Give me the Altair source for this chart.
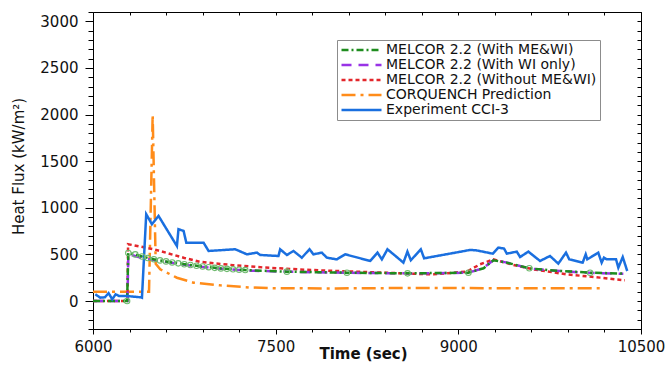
import altair as alt
import pandas as pd

# ---------------- data ----------------
names = [
    "MELCOR 2.2 (With ME&WI)",
    "MELCOR 2.2 (With WI only)",
    "MELCOR 2.2 (Without ME&WI)",
    "CORQUENCH Prediction",
    "Experiment CCI-3",
]

time_green = [6000, 6280, 6290, 6347, 6402, 6450, 6500, 6550, 6600, 6650, 6700, 6750,
              6800, 6850, 6900, 6950, 7000, 7050, 7100, 7150, 7200, 7250, 7592, 8085,
              8583, 9083, 9207, 9288, 9398, 9583, 9750, 10082, 10355]
flux_green = [0, 0, 515, 500, 478, 462, 448, 436, 425, 414, 404, 395,
              386, 378, 370, 363, 356, 350, 345, 340, 336, 332, 315, 304,
              297, 304, 351, 437, 412, 351, 330, 304, 294]
marker_green = [False, True, True, True, True, True, True, True, True, True, True, True,
                True, True, True, True, True, True, True, True, True, True, True, True,
                True, True, False, False, False, True, False, True, False]

time_purple = [6000, 6283, 6290, 6400, 6500, 6600, 6700, 6800, 6900, 7000, 7100, 7200,
               7300, 7600, 8100, 8600, 9080, 9200, 9290, 9400, 9580, 9750, 10080, 10355]
flux_purple = [0, 0, 505, 462, 440, 420, 400, 382, 366, 352, 342, 333,
               326, 314, 303, 296, 303, 350, 440, 412, 350, 328, 302, 292]

time_red = [6000, 6283, 6288, 6500, 6750, 6880, 7150, 7400, 7750, 8085, 8604, 8795,
            9069, 9179, 9288, 9452, 9616, 9890, 10163, 10368]
flux_red = [0, 0, 610, 555, 462, 420, 385, 360, 335, 318, 294, 286,
            315, 394, 447, 387, 340, 286, 251, 222]

time_orange = [6000, 6460, 6490, 6515, 6552, 6689, 6826, 7045, 7291, 7500, 8000,
               8700, 9000, 9500, 10190]
flux_orange = [100, 100, 2000, 400, 340, 250, 197, 168, 145, 137, 135,
               141, 140, 136, 136]

time_blue = [6019, 6060, 6098, 6128, 6158, 6186, 6213, 6268, 6390, 6402, 6437, 6484,
             6538, 6689, 6702, 6744, 6766, 6908, 6949, 7168, 7264, 7346, 7373, 7523,
             7537, 7592, 7646, 7715, 7778, 7810, 7879, 7920, 8002, 8071, 8276, 8336,
             8372, 8418, 8549, 8582, 8610, 8692, 8719, 9097, 9146, 9283, 9329, 9376,
             9398, 9480, 9507, 9575, 9671, 9753, 9821, 9884, 9911, 10021, 10046, 10059,
             10149, 10177, 10196, 10218, 10295, 10314, 10350, 10387]
flux_blue = [72, 36, 40, 85, 18, 72, 55, 55, 40, 35, 931, 824,
             913, 590, 770, 752, 626, 626, 537, 555, 501, 519, 494, 483,
             555, 494, 537, 465, 555, 501, 519, 465, 447, 501, 430, 519,
             447, 555, 412, 530, 437, 555, 458, 548, 544, 508, 573, 562,
             508, 530, 472, 530, 430, 483, 401, 519, 447, 412, 501, 447,
             519, 412, 465, 447, 447, 358, 472, 322]

colors = ["#1e8c1e", "#9933e6", "#e3262b", "#ff8c1a", "#1a6fdf"]
dashes = [[7, 3, 2, 3], [10, 7], [4, 3], [14, 5, 3, 5], [1, 0]]
widths = [2.5, 2.5, 2.2, 2.5, 3]

x_domain = [6000, 10500]
y_domain = [-300, 3100]
x_labels = [6000, 7500, 9000, 10500]
y_labels = [0, 500, 1000, 1500, 2000, 2500, 3000]
x_minor = list(range(6000, 10501, 300))
y_minor = list(range(-300, 3101, 100))

# ---------------- tables ----------------
rows = []
series_data = [
    (names[3], time_orange, flux_orange, None),
    (names[2], time_red, flux_red, None),
    (names[1], time_purple, flux_purple, None),
    (names[0], time_green, flux_green, marker_green),
    (names[4], time_blue, flux_blue, None),
]
for name, ts, fs, ms in series_data:
    for i, (t, f) in enumerate(zip(ts, fs)):
        rows.append({"series": name, "time": t, "flux": f,
                     "marker": bool(ms[i]) if ms is not None else False})
df = pd.DataFrame(rows)

W, H = 548, 317
FONT = "DejaVu Sans"

xs = alt.Scale(domain=x_domain, nice=False, zero=False)
ys = alt.Scale(domain=y_domain, nice=False, zero=False)

legend = alt.Legend(
    title=None, orient="none", legendX=244, legendY=28,
    symbolType="stroke", symbolSize=1600, symbolStrokeWidth=2.5,
    clipHeight=14,
    labelFont=FONT, labelFontSize=14, labelColor="#111", labelLimit=400,
    labelOffset=3, rowPadding=1, padding=3,
    strokeColor="#8c8c8c", fillColor="white",
)

lines = alt.Chart(df).mark_line().encode(
    x=alt.X("time:Q", scale=xs,
            axis=alt.Axis(orient="bottom", values=x_labels, title="Time (sec)",
                          tickSize=5, labelPadding=5, format="d", labelFlush=False,
                          titleFontWeight="bold", titleFontSize=15, titleFont=FONT,
                          titleX=270, titleY=29, titleBaseline="alphabetic")),
    y=alt.Y("flux:Q", scale=ys,
            axis=alt.Axis(orient="left", values=y_labels, title="Heat Flux (kW/m²)",
                          tickSize=8, labelPadding=7, format="d", labelFlush=False,
                          titleFontWeight="normal", titleFontSize=15, titleFont=FONT,
                          titleX=-67, titleY=154, titleBaseline="bottom")),
    color=alt.Color("series:N", scale=alt.Scale(domain=names, range=colors), legend=legend),
    strokeDash=alt.StrokeDash("series:N", scale=alt.Scale(domain=names, range=dashes), legend=legend),
    strokeWidth=alt.StrokeWidth("series:N", scale=alt.Scale(domain=names, range=widths), legend=None),
)

markers = alt.Chart(df).transform_filter("datum.marker").mark_point(
    shape="circle", filled=False, size=30, color="#6fba6f", strokeWidth=1.1, opacity=1
).encode(
    x=alt.X("time:Q", scale=xs, axis=None),
    y=alt.Y("flux:Q", scale=ys, axis=None),
)

minor = alt.Chart(df).mark_point(opacity=0).encode(
    x=alt.X("time:Q", scale=xs,
            axis=alt.Axis(orient="bottom", values=x_minor, tickSize=3, labels=False,
                          domain=False, title=None)),
    y=alt.Y("flux:Q", scale=ys,
            axis=alt.Axis(orient="left", values=y_minor, tickSize=5, labels=False,
                          domain=False, title=None)),
)

frame = alt.Chart(df).mark_point(opacity=0).encode(
    x=alt.X("time:Q", scale=xs,
            axis=alt.Axis(orient="bottom", offset=-H, values=x_minor, tickSize=3,
                          labels=False, domain=True, title=None)),
    y=alt.Y("flux:Q", scale=ys,
            axis=alt.Axis(orient="left", offset=-W, values=y_minor, tickSize=4,
                          labels=False, domain=True, title=None)),
)

chart = alt.layer(lines, markers, minor, frame).resolve_axis(
    x="independent", y="independent"
).properties(
    width=W, height=H,
    autosize=alt.AutoSizeParams(type="none"),
    padding={"left": 93, "top": 12, "right": 26, "bottom": 39},
    background="white",
).configure_view(stroke=None).configure_axis(
    labelFont=FONT, labelFontSize=15, labelColor="#111",
    domainColor="black", tickColor="black", domainWidth=1, tickWidth=1,
    grid=False, labelOverlap=False, titleColor="#111",
)

chart.save("out.html", embed_options={"renderer": "svg", "actions": False})
